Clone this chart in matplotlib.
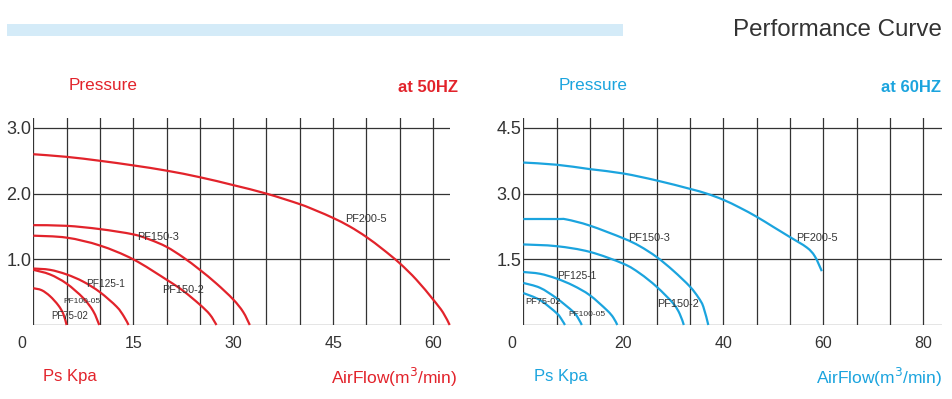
import numpy as np
import matplotlib
matplotlib.use("Agg")
import matplotlib.pyplot as plt
from matplotlib.patches import Rectangle, PathPatch
from matplotlib.path import Path
from matplotlib.transforms import offset_copy

plt.rcParams['font.family'] = ['Liberation Sans', 'DejaVu Sans']

# ---------------- data ----------------
# 50 Hz: AirFlow (m3/min) vs pressure (kPa)
pf200_5_50_x = [0, 5, 10, 15, 20, 25, 30, 35, 40, 42.5, 45, 47.5, 50, 52.5, 55, 57.5, 60, 61.5, 62.5]
pf200_5_50_y = [2.60, 2.56, 2.50, 2.43, 2.35, 2.25, 2.13, 2.00, 1.84, 1.74, 1.63, 1.50, 1.34, 1.15, 0.94, 0.69, 0.39, 0.19, 0.0]
pf150_3_50_x = [0, 5, 10, 15, 17.5, 20, 22.5, 25, 27.5, 30, 31.5, 32.5]
pf150_3_50_y = [1.52, 1.51, 1.46, 1.38, 1.30, 1.19, 1.03, 0.84, 0.63, 0.39, 0.20, 0.0]
pf150_2_50_x = [0, 5, 10, 15, 20, 22.5, 25, 26.5, 27.5]
pf150_2_50_y = [1.36, 1.33, 1.21, 1.00, 0.69, 0.52, 0.31, 0.16, 0.0]
pf125_1_50_x = [0, 2.5, 5, 7.5, 10, 12.5, 13.6, 14.3]
pf125_1_50_y = [0.86, 0.84, 0.77, 0.66, 0.50, 0.28, 0.13, 0.0]
pf100_05_50_x = [0, 2.5, 5, 7.5, 9.0, 9.9]
pf100_05_50_y = [0.84, 0.77, 0.63, 0.41, 0.21, 0.0]
pf75_02_50_x = [0, 1.25, 2.5, 3.75, 4.5, 5.0]
pf75_02_50_y = [0.56, 0.53, 0.44, 0.30, 0.17, 0.0]

# 60 Hz
pf200_5_60_x = [0, 6.67, 13.3, 20, 26.7, 33.3, 36.7, 40, 43.3, 46.7, 50, 53.3, 56.7, 58.3, 59.7]
pf200_5_60_y = [3.71, 3.66, 3.56, 3.46, 3.30, 3.11, 3.00, 2.86, 2.68, 2.47, 2.24, 2.01, 1.77, 1.57, 1.23]
pf150_3_60_x = [0, 6.67, 8.67, 13.3, 20, 23.3, 26.7, 30, 33.3, 35, 36, 37]
pf150_3_60_y = [2.42, 2.42, 2.41, 2.27, 1.98, 1.80, 1.55, 1.24, 0.88, 0.63, 0.42, 0.0]
pf150_2_60_x = [0, 6.67, 13.3, 20, 23.3, 26.7, 30, 31.3, 32.1]
pf150_2_60_y = [1.84, 1.80, 1.67, 1.40, 1.18, 0.87, 0.49, 0.25, 0.0]
pf125_1_60_x = [0, 3.33, 6.67, 10, 13.3, 16.7, 18.0, 18.8]
pf125_1_60_y = [1.21, 1.17, 1.06, 0.90, 0.68, 0.34, 0.17, 0.0]
pf100_05_60_x = [0, 3.33, 6.67, 10, 11.0, 11.7]
pf100_05_60_y = [0.96, 0.85, 0.61, 0.30, 0.15, 0.0]
pf75_02_60_x = [0, 3.33, 6.67, 7.7, 8.33]
pf75_02_60_y = [0.73, 0.57, 0.27, 0.12, 0.0]

x_ticks_50 = [0, 15, 30, 45, 60]
y_ticks_50 = [1.0, 2.0, 3.0]
y_labels_50 = ['1.0', '2.0', '3.0']
x_ticks_60 = [0, 20, 40, 60, 80]
y_ticks_60 = [1.5, 3.0, 4.5]
y_labels_60 = ['1.5', '3.0', '4.5']

RED = '#e2232b'
BLUE = '#1ba4de'
GRID = '#333333'

W, H = 952, 399
fig = plt.figure(figsize=(W / 100, H / 100), dpi=100)


def fx(px):
    return px / W


def fy(py):
    return 1 - py / H


def smooth_path(xs, ys):
    """Cubic Bezier path passing through every read point (Catmull-Rom tangents)."""
    p = np.column_stack([xs, ys]).astype(float)
    n = len(p)
    verts = [p[0]]
    codes = [Path.MOVETO]
    for i in range(n - 1):
        p0 = p[i - 1] if i > 0 else p[i]
        p1, p2 = p[i], p[i + 1]
        p3 = p[i + 2] if i + 2 < n else p[i + 1]
        c1 = p1 + (p2 - p0) / 6.0
        c2 = p2 - (p3 - p1) / 6.0
        verts += [c1, c2, p2]
        codes += [Path.CURVE4] * 3
    return Path(verts, codes)


def make_axes(left_px, right_px, xmax, ymax, xgrid, ygrid, xticks, yticks, ylabels):
    ax = fig.add_axes([fx(left_px), fy(325), (right_px - left_px) / W, (325 - 118.3) / H])
    ax.set_xlim(0, xmax)
    ax.set_ylim(0, ymax)
    for s in ax.spines.values():
        s.set_visible(False)
    ax.set_xticks(xgrid)
    ax.set_xticklabels([])
    ax.set_yticks([0] + list(yticks))
    ax.set_yticklabels([''] + ylabels, fontsize=13, color='#333333')
    ax.tick_params(length=0, pad=1.5)
    ax.grid(True, color=GRID, lw=0.9)
    ax.set_axisbelow(True)
    for v in xticks:
        dx = -11 if v == 0 else 0
        tr = offset_copy(ax.get_xaxis_transform(), fig=fig, x=dx, y=-19, units='dots')
        ax.text(v, 0, str(v), transform=tr, ha='center', va='center',
                fontsize=11.5, color='#333333')
    return ax


def draw_curves(ax, curves, color):
    for xs, ys, name, lx, ly, fs in curves:
        ax.add_patch(PathPatch(smooth_path(xs, ys), facecolor='none', edgecolor=color,
                               lw=1.6, joinstyle='round', capstyle='butt', clip_on=False))
        ax.text(lx, ly, name, ha='center', va='center', fontsize=fs, color='#333333')


# banner
fig.patches.append(Rectangle((fx(7), fy(36)), (623 - 7) / W, 12 / H,
                             transform=fig.transFigure, color='#d4ebf8', lw=0))
fig.text(fx(942), fy(30), 'Performance Curve', ha='right', va='center',
         fontsize=17.4, color='#333333')

# ---- 50 Hz ----
ax1 = make_axes(33.3, 450, 62.55, 3.0 + 9.7 / 66, np.arange(0, 61, 5),
                np.arange(0, 4, 1), x_ticks_50, y_ticks_50, y_labels_50)
curves50 = [
    (pf200_5_50_x, pf200_5_50_y, 'PF200-5', 50.0, 1.62, 7.8),
    (pf150_3_50_x, pf150_3_50_y, 'PF150-3', 18.7, 1.34, 7.8),
    (pf150_2_50_x, pf150_2_50_y, 'PF150-2', 22.5, 0.54, 7.8),
    (pf125_1_50_x, pf125_1_50_y, 'PF125-1', 10.9, 0.63, 7.3),
    (pf100_05_50_x, pf100_05_50_y, 'PF100-05', 7.25, 0.36, 6.0),
    (pf75_02_50_x, pf75_02_50_y, 'PF75-02', 5.5, 0.13, 6.9),
]
draw_curves(ax1, curves50, RED)

fig.text(fx(69), fy(85), 'Pressure', ha='left', va='center', fontsize=12.3, color=RED)
fig.text(fx(458), fy(87), 'at 50HZ', ha='right', va='center', fontsize=12,
         fontweight='bold', color=RED)
fig.text(fx(43), fy(377), 'Ps Kpa', ha='left', va='center', fontsize=12, color=RED)
fig.text(fx(457), fy(377), 'AirFlow(m$^3$/min)', ha='right', va='center', fontsize=12.5, color=RED)

# ---- 60 Hz ----
ax2 = make_axes(523.3, 941.7, 83.68, 4.5 + 9.7 / 66 * 1.5, np.arange(0, 81, 20 / 3),
                np.arange(0, 4.6, 1.5), x_ticks_60, y_ticks_60, y_labels_60)
curves60 = [
    (pf200_5_60_x, pf200_5_60_y, 'PF200-5', 58.8, 1.98, 7.8),
    (pf150_3_60_x, pf150_3_60_y, 'PF150-3', 25.2, 1.98, 7.8),
    (pf150_2_60_x, pf150_2_60_y, 'PF150-2', 31.0, 0.49, 7.8),
    (pf125_1_60_x, pf125_1_60_y, 'PF125-1', 10.7, 1.12, 7.4),
    (pf100_05_60_x, pf100_05_60_y, 'PF100-05', 12.7, 0.25, 6.0),
    (pf75_02_60_x, pf75_02_60_y, 'PF75-02', 4.0, 0.53, 6.7),
]
draw_curves(ax2, curves60, BLUE)

fig.text(fx(559), fy(85), 'Pressure', ha='left', va='center', fontsize=12.3, color=BLUE)
fig.text(fx(941), fy(87), 'at 60HZ', ha='right', va='center', fontsize=12,
         fontweight='bold', color=BLUE)
fig.text(fx(534), fy(377), 'Ps Kpa', ha='left', va='center', fontsize=12, color=BLUE)
fig.text(fx(942), fy(377), 'AirFlow(m$^3$/min)', ha='right', va='center', fontsize=12.5, color=BLUE)

fig.savefig('out.png', dpi=100, facecolor='white')
